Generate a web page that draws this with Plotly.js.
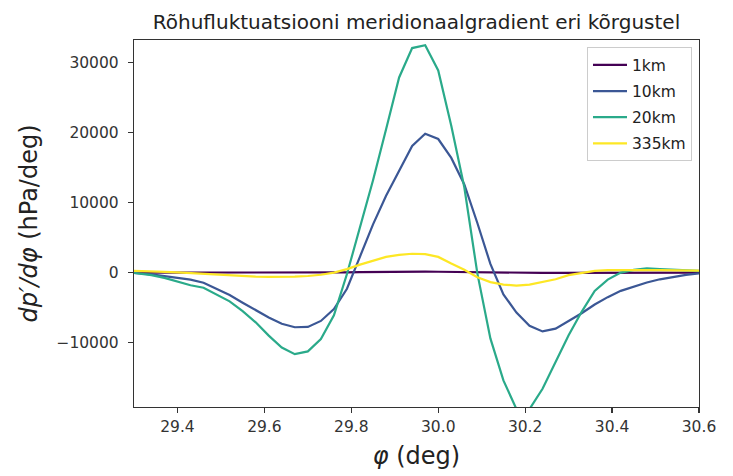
<!DOCTYPE html>
<html>
<head>
<meta charset="utf-8">
<script src="https://cdn.plot.ly/plotly-3.0.1.min.js"></script>
<style>
  html, body { margin: 0; padding: 0; background: #ffffff; }
  #chart { width: 733px; height: 476px; }
</style>
</head>
<body>
<div id="chart"></div>
<script>
// Latitude grid (deg)
const phi = [29.28, 29.31, 29.34, 29.37, 29.40, 29.43, 29.46, 29.49, 29.52, 29.55,
             29.58, 29.61, 29.64, 29.67, 29.70, 29.73, 29.76, 29.79, 29.82, 29.85,
             29.88, 29.91, 29.94, 29.97, 30.00, 30.03, 30.06, 30.09, 30.12, 30.15,
             30.18, 30.21, 30.24, 30.27, 30.30, 30.33, 30.36, 30.39, 30.42, 30.45,
             30.48, 30.51, 30.54, 30.57, 30.60];

// Meridional gradient of the pressure fluctuation, hPa/deg, per altitude
const grad1km = [0, 0, 0, 0, 0, 0, 0, -10, -20, -30,
                 -40, -50, -55, -55, -50, -30, 0, 40, 80, 110,
                 130, 140, 145, 140, 130, 100, 60, 20, -10, -30,
                 -40, -40, -35, -30, -20, -15, -10, -5, 0, 0,
                 0, 0, 0, 0, 0];
const grad10km = [50, -50, -250, -500, -700, -1000, -1450, -2300, -3200, -4300,
                  -5350, -6400, -7300, -7800, -7750, -6900, -5200, -2300, 2300, 6900,
                  11000, 14600, 18100, 19850, 19100, 16400, 12600, 7100, 1250, -3100,
                  -5700, -7600, -8400, -8000, -6950, -5800, -4550, -3500, -2600, -1950,
                  -1400, -950, -600, -330, -100];
const grad20km = [100, -100, -350, -750, -1250, -1800, -2150, -3100, -4100, -5500,
                  -7100, -9000, -10700, -11650, -11250, -9500, -6100, -200, 6400, 13200,
                  20500, 27900, 32100, 32500, 28900, 21000, 12200, -100, -9400, -15400,
                  -19500, -19500, -16600, -12700, -8950, -5600, -2600, -1000, 0, 400,
                  600, 500, 400, 300, 250];
const grad335km = [300, 270, 200, 120, 30, -80, -200, -320, -420, -500,
                   -560, -590, -600, -570, -480, -300, 0, 500, 1150, 1750,
                   2250, 2550, 2700, 2650, 2250, 1300, 420, -650, -1350, -1700,
                   -1850, -1700, -1350, -950, -350, 0, 250, 350, 380, 380,
                   370, 350, 320, 300, 280];

const seriesNames = ['1km', '10km', '20km', '335km'];
const seriesValues = [grad1km, grad10km, grad20km, grad335km];
const seriesColors = ['#440154', '#3b5795', '#2aaa8a', '#fde725'];

const yTickVals = [-10000, 0, 10000, 20000, 30000];
const yTickText = ['\u221210000', '0', '10000', '20000', '30000'];
const xTickVals = [29.4, 29.6, 29.8, 30.0, 30.2, 30.4, 30.6];

const FONT = 'DejaVu Sans, Liberation Sans, sans-serif';

// one legend group per altitude so the entries get a little extra spacing
const traces = seriesNames.map((name, i) => ({
  type: 'scatter',
  mode: 'lines',
  name: name,
  legendgroup: name,
  x: phi,
  y: seriesValues[i],
  line: { color: seriesColors[i], width: 2.2 },
  hoverinfo: 'skip'
}));

const layout = {
  width: 733,
  height: 476,
  margin: { l: 134, r: 34, t: 40, b: 69 },
  paper_bgcolor: '#ffffff',
  plot_bgcolor: '#ffffff',
  font: { family: FONT, color: '#262626' },
  title: {
    text: 'Rõhufluktuatsiooni meridionaalgradient eri kõrgustel',
    font: { family: FONT, size: 20, color: '#222222' },
    x: 0.5, xref: 'paper',
    y: 0.953, yref: 'container', yanchor: 'middle'
  },
  xaxis: {
    range: [29.3, 30.6],
    tickvals: xTickVals,
    tickformat: '.1f',
    ticks: 'outside', ticklen: 5, tickwidth: 1.2, tickcolor: '#333333',
    showline: true, linecolor: '#333333', linewidth: 1.2, mirror: true,
    showgrid: false, zeroline: false,
    tickfont: { family: FONT, size: 15.5, color: '#333333' },
    title: { text: '<i>φ</i> (deg)', font: { family: FONT, size: 24, color: '#222222' }, standoff: 12 }
  },
  yaxis: {
    range: [-19200, 33250],
    tickvals: yTickVals,
    ticktext: yTickText,
    ticks: 'outside', ticklen: 5, tickwidth: 1.2, tickcolor: '#333333',
    ticklabelstandoff: 6,
    showline: true, linecolor: '#333333', linewidth: 1.2, mirror: true,
    showgrid: false, zeroline: false,
    tickfont: { family: FONT, size: 15.5, color: '#333333' },
    title: { text: '<i>dp′/dφ</i> (hPa/deg)', font: { family: FONT, size: 24, color: '#222222' }, standoff: 12 }
  },
  legend: {
    x: 0.9876, y: 0.98, xanchor: 'right', yanchor: 'top',
    bgcolor: '#ffffff', bordercolor: '#cccccc', borderwidth: 1,
    font: { family: FONT, size: 15.5, color: '#222222' },
    itemwidth: 34,
    tracegroupgap: 3
  },
  showlegend: true
};

Plotly.newPlot('chart', traces, layout, { displayModeBar: false, staticPlot: true });
</script>
</body>
</html>
